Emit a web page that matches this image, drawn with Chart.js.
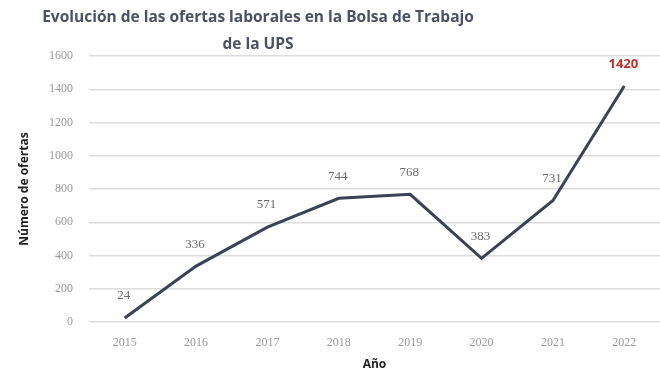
<!DOCTYPE html>
<html><head><meta charset="utf-8">
<script src="https://cdn.jsdelivr.net/npm/chart.js@4/dist/chart.umd.min.js"></script>
<style>html,body{margin:0;padding:0;background:#fff}#wrap{width:660px;height:376px}</style>
</head><body><div id="wrap"><canvas id="c" width="660" height="376"></canvas></div>
<script>
const titleLines = ["Evolución de las ofertas laborales en la Bolsa de Trabajo", "de la UPS"];
const years = ["2015","2016","2017","2018","2019","2020","2021","2022"];
const offers = [24, 336, 571, 744, 768, 383, 731, 1420];
const yTicks = [0, 200, 400, 600, 800, 1000, 1200, 1400, 1600];
const highlightIndex = 7;

const titlePlugin = {
  id: 'customTitle',
  afterDraw(chart) {
    const ctx = chart.ctx;
    ctx.save();
    ctx.font = 'bold 15.5px "Open Sans", sans-serif';
    ctx.fillStyle = '#4b5162';
    ctx.textAlign = 'center';
    ctx.textBaseline = 'middle';
    ctx.fillText(titleLines[0], 258, 18);
    ctx.fillText(titleLines[1], 258, 45);
    ctx.restore();
  }
};
const labelPlugin = {
  id: 'valueLabels',
  afterDatasetsDraw(chart) {
    const ctx = chart.ctx;
    const meta = chart.getDatasetMeta(0);
    ctx.save();
    ctx.textAlign = 'center';
    ctx.textBaseline = 'middle';
    meta.data.forEach((pt, i) => {
      if (i === highlightIndex) {
        ctx.font = 'bold 13px "Open Sans", sans-serif';
        ctx.fillStyle = '#c0302b';
      } else {
        ctx.font = '13px "Liberation Serif", serif';
        ctx.fillStyle = '#6a6a6a';
      }
      ctx.fillText(String(offers[i]), pt.x - 1, pt.y - 22);
    });
    ctx.restore();
  }
};

new Chart(document.getElementById('c'), {
  type: 'line',
  data: {
    labels: years,
    datasets: [{
      data: offers,
      borderColor: '#3c4256',
      borderWidth: 3,
      pointRadius: 0,
      tension: 0,
      fill: false
    }]
  },
  options: {
    responsive: false,
    animation: false,
    layout: { padding: { top: 56, right: 0, left: 0, bottom: 0 } },
    plugins: { legend: { display: false }, tooltip: { enabled: false }, title: { display: false } },
    scales: {
      x: {
        offset: true,
        grid: { display: false, drawTicks: false },
        border: { display: false },
        ticks: { color: '#9a9a9a', font: { family: '"Liberation Serif", serif', size: 12 }, padding: 14 },
        title: { display: true, text: 'Año', color: '#222', font: { family: '"Open Sans", sans-serif', size: 12, weight: 'bold' }, padding: { top: 9 } },
        afterFit(s) { s.height = 54; }
      },
      y: {
        min: 0, max: 1600,
        afterBuildTicks(s) { s.ticks = yTicks.map(v => ({ value: v })); },
        grid: { color: '#dcdcdc', lineWidth: 1.5, drawTicks: false },
        border: { display: false },
        ticks: { color: '#9a9a9a', font: { family: '"Liberation Serif", serif', size: 12 }, padding: 16, callback: v => String(v) },
        title: { display: true, text: 'Número de ofertas', color: '#222', font: { family: '"Open Sans", sans-serif', size: 12, weight: 'bold' }, padding: { top: 17, bottom: 0 } },
        afterFit(s) { s.width = 89; }
      }
    }
  },
  plugins: [titlePlugin, labelPlugin]
});
</script></body></html>
